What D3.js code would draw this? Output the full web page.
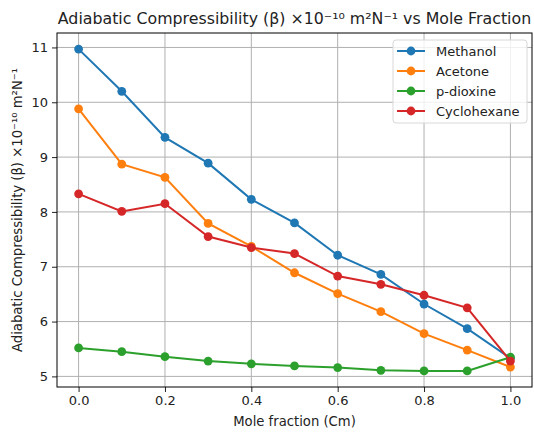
<!DOCTYPE html>
<html>
<head>
<meta charset="utf-8">
<script src="https://cdn.jsdelivr.net/npm/d3@7"></script>
<style>
  body { margin: 0; background: #fff; }
  text { font-family: "DejaVu Sans", sans-serif; fill: #222; }
</style>
</head>
<body>
<svg id="chart"></svg>
<script>
// mole fraction steps
const moleFraction = [0.0, 0.1, 0.2, 0.3, 0.4, 0.5, 0.6, 0.7, 0.8, 0.9, 1.0]

// beta x 1e-10 m2/N
const methanol    = [10.97, 10.20, 9.36, 8.89, 8.23, 7.80, 7.21, 6.86, 6.32, 5.87, 5.33]
const acetone     = [9.88, 8.87, 8.63, 7.79, 7.37, 6.89, 6.51, 6.18, 5.78, 5.48, 5.17]
const pDioxine    = [5.52, 5.45, 5.36, 5.28, 5.23, 5.19, 5.16, 5.11, 5.10, 5.10, 5.35]
const cyclohexane = [8.33, 8.01, 8.15, 7.55, 7.35, 7.24, 6.83, 6.68, 6.48, 6.25, 5.28]

const xTicks = [0.0, 0.2, 0.4, 0.6, 0.8, 1.0]
const yTicks = [5, 6, 7, 8, 9, 10, 11]

const series = [
    {name: "Methanol", values: methanol, color: "#1f77b4"},
    {name: "Acetone", values: acetone, color: "#ff7f0e"},
    {name: "p-dioxine", values: pDioxine, color: "#2ca02c"},
    {name: "Cyclohexane", values: cyclohexane, color: "#d62728"}
]

const width = 534, height = 432
const margin = {top: 33, right: 2, bottom: 45, left: 57},
      bodyWidth = width - margin.left - margin.right,
      bodyHeight = height - margin.top - margin.bottom

const svg = d3.select("#chart")
        .attr("width", width)
        .attr("height", height)

// matplotlib style 5% padding on both axes
const allY = series.flatMap(s => s.values)
const yMin = d3.min(allY), yMax = d3.max(allY), yPad = (yMax - yMin) * 0.05

const xScale = d3.scaleLinear()
        .domain([-0.05, 1.05])
        .range([0, bodyWidth]),
      yScale = d3.scaleLinear()
        .domain([yMin - yPad, yMax + yPad])
        .range([bodyHeight, 0])

const body = svg.append("g")
        .attr("transform", `translate(${margin.left},${margin.top})`)

// grid
body.append("g").selectAll("line")
    .data(xTicks).enter().append("line")
    .attr("x1", d => xScale(d)).attr("x2", d => xScale(d))
    .attr("y1", 0).attr("y2", bodyHeight)
    .attr("stroke", "#b0b0b0").attr("stroke-width", 1)
body.append("g").selectAll("line")
    .data(yTicks).enter().append("line")
    .attr("y1", d => yScale(d)).attr("y2", d => yScale(d))
    .attr("x1", 0).attr("x2", bodyWidth)
    .attr("stroke", "#b0b0b0").attr("stroke-width", 1)

// axes
const xAxis = d3.axisBottom(xScale).tickValues(xTicks)
        .tickFormat(d3.format(".1f")).tickSize(5).tickPadding(4),
      yAxis = d3.axisLeft(yScale).tickValues(yTicks)
        .tickFormat(d3.format("d")).tickSize(5).tickPadding(4)

const xAxisView = body.append("g")
        .attr("transform", `translate(0,${bodyHeight})`)
        .call(xAxis)
const yAxisView = body.append("g").call(yAxis)

for (const ax of [xAxisView, yAxisView]) {
    ax.select(".domain").remove()
    ax.selectAll("text").attr("font-size", 13).attr("fill", "#222")
        .attr("font-family", "DejaVu Sans, sans-serif")
    ax.selectAll("line").attr("stroke", "#222")
}

// lines + markers
const line = d3.line()
        .x((d, i) => xScale(moleFraction[i]))
        .y(d => yScale(d))

const seriesView = body.selectAll(".series")
        .data(series).enter().append("g")

seriesView.append("path")
    .attr("d", d => line(d.values))
    .attr("fill", "none")
    .attr("stroke", d => d.color)
    .attr("stroke-width", 2)

seriesView.selectAll("circle")
    .data(d => d.values.map((v, i) => ({x: moleFraction[i], y: v, color: d.color})))
    .enter().append("circle")
    .attr("cx", d => xScale(d.x))
    .attr("cy", d => yScale(d.y))
    .attr("r", 4.4)
    .attr("fill", d => d.color)

// frame
body.append("rect")
    .attr("width", bodyWidth).attr("height", bodyHeight)
    .attr("fill", "none").attr("stroke", "#000").attr("stroke-width", 1)

// legend
const legend = body.append("g")
        .attr("transform", `translate(${bodyWidth - 139},7)`)
legend.append("rect")
    .attr("width", 134).attr("height", 83).attr("rx", 3)
    .attr("fill", "#fff").attr("fill-opacity", 0.8)
    .attr("stroke", "#d8d8d8")

const items = legend.selectAll(".item")
        .data(series).enter().append("g")
        .attr("transform", (d, i) => `translate(0,${11 + i * 20})`)
items.append("line")
    .attr("x1", 4).attr("x2", 32)
    .attr("stroke", d => d.color).attr("stroke-width", 2)
items.append("circle")
    .attr("cx", 18).attr("r", 4.4).attr("fill", d => d.color)
items.append("text")
    .attr("x", 43).attr("dy", "0.35em")
    .attr("font-size", 13)
    .text(d => d.name)

// titles
svg.append("text")
    .attr("x", margin.left + bodyWidth / 2).attr("y", 24)
    .attr("text-anchor", "middle").attr("font-size", 15.8)
    .text("Adiabatic Compressibility (β) ×10⁻¹⁰ m²N⁻¹ vs Mole Fraction")

svg.append("text")
    .attr("x", margin.left + bodyWidth / 2).attr("y", 426)
    .attr("text-anchor", "middle").attr("font-size", 13.2)
    .text("Mole fraction (Cm)")

svg.append("text")
    .attr("transform", `translate(22,${margin.top + bodyHeight / 2}) rotate(-90)`)
    .attr("text-anchor", "middle").attr("font-size", 13.2)
    .text("Adiabatic Compressibility (β) ×10⁻¹⁰ m²N⁻¹")
</script>
</body>
</html>
